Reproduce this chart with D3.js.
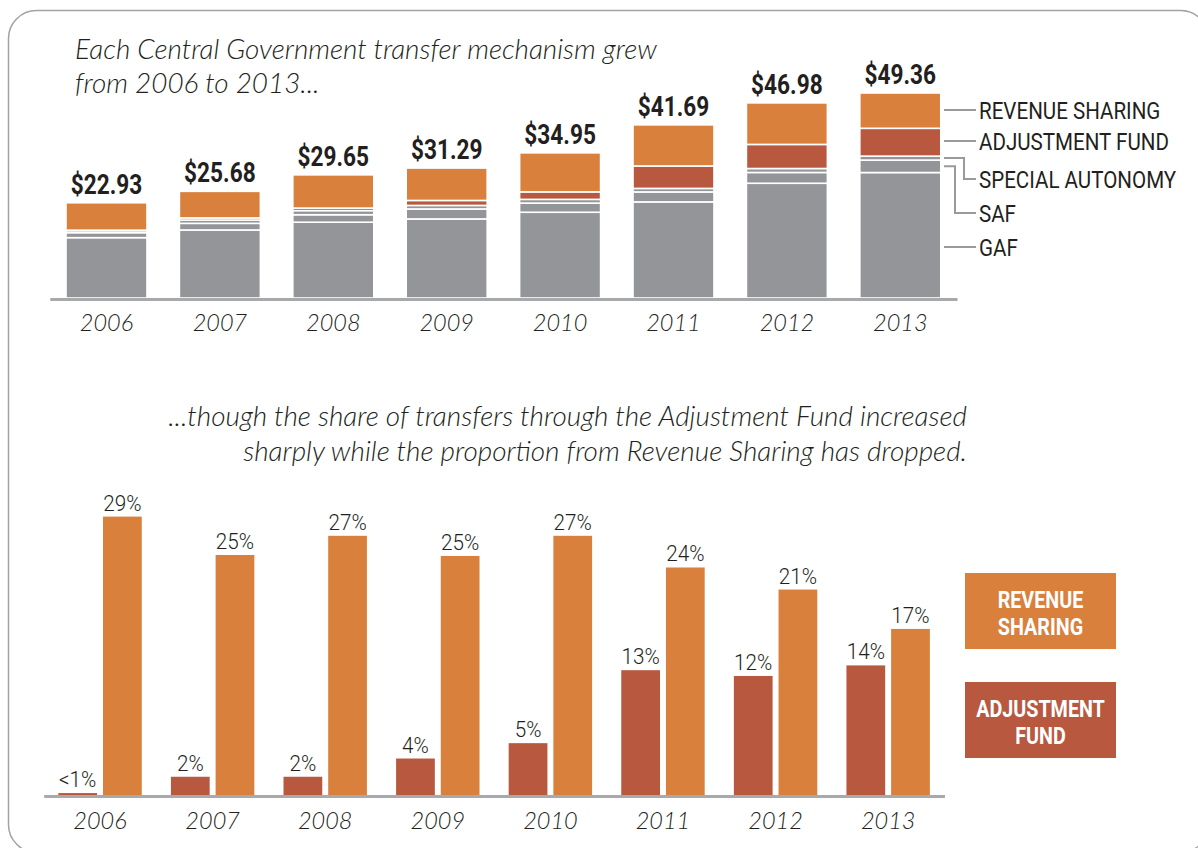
<!DOCTYPE html>
<html><head><meta charset="utf-8">
<script src="https://cdn.jsdelivr.net/npm/d3@7"></script>
<style>
html,body{margin:0;padding:0;background:#fff;}
svg{display:block;}
.ital{font-family:Lato,"Open Sans",sans-serif;font-style:italic;font-weight:300;fill:#231f20;}
.cond{font-family:Roboto,"Liberation Sans Narrow","DejaVu Sans Condensed",sans-serif;fill:#231f20;}
</style></head>
<body>
<script>
// ---------- data ----------
const years = ["2006","2007","2008","2009","2010","2011","2012","2013"];
const totals = [22.93, 25.68, 29.65, 31.29, 34.95, 41.69, 46.98, 49.36];
const revenueSharing   = [6.6, 6.4, 8.0, 7.8, 9.4, 9.9, 10.0, 8.5];
const adjustmentFund   = [0.1, 0.5, 0.6, 1.2, 1.8, 5.4, 5.8, 6.7];
const specialAutonomy  = [0.5, 0.8, 1.0, 0.85, 0.9, 0.85, 0.95, 0.95];
const saf              = [1.2, 1.6, 1.8, 2.4, 2.2, 2.4, 2.6, 3.0];
const gaf              = [14.53, 16.38, 18.25, 19.04, 20.65, 23.14, 27.63, 30.21];
const seriesKeys   = ["GAF","SAF","SA","AF","RS"];
const legendLabels = ["REVENUE SHARING","ADJUSTMENT FUND","SPECIAL AUTONOMY","SAF","GAF"];

const rsShare  = [29.0, 25.0, 27.0, 24.9, 27.0, 23.7, 21.4, 17.3];
const afShare  = [0.2, 1.9, 1.9, 3.8, 5.4, 13.0, 12.4, 13.5];
const rsLabels = ["29%","25%","27%","25%","27%","24%","21%","17%"];
const afLabels = ["<1%","2%","2%","4%","5%","13%","12%","14%"];

const title1 = ["Each Central Government transfer mechanism grew","from 2006 to 2013..."];
const title2 = ["...though the share of transfers through the Adjustment Fund increased","sharply while the proportion from Revenue Sharing has dropped."];

// ---------- styles ----------
const C = {RS:"#d9803d", AF:"#b8583f", SA:"#939598", SAF:"#939598", GAF:"#939598"};
const axisGray = "#a7a9ac";

const W = 1198, H = 848;
const svg = d3.select("body").append("svg").attr("width",W).attr("height",H);

// frame
svg.append("rect").attr("x",8.5).attr("y",10.5).attr("width",1200).attr("height",842)
  .attr("rx",28).attr("fill","none").attr("stroke","#a3a3a3").attr("stroke-width",1.5);

// condensed text: horizontal scale via transform (no narrow font cut installed)
function condText(parent, data, opt){
  return parent.selectAll(null).data(data).join("text").attr("class","cond")
    .attr("transform",(d,i)=>`translate(${opt.x(d,i)},${opt.y(d,i)}) scale(${opt.k},1)`)
    .attr("text-anchor",opt.anchor||"start")
    .style("font-size",opt.size+"px").style("font-weight",opt.weight||400)
    .style("fill",opt.fill||"#231f20").text(opt.text||(d=>d));
}
function fontFit(sel, w){
  let fs = 23;
  sel.each(function(){ const l=this.getComputedTextLength(); const cur=parseFloat(d3.select(this).style("font-size")); if(l>0) fs = cur*w/l; });
  return fs;
}

// ---------- top chart ----------
const rows = years.map((y,i)=>({year:y, GAF:gaf[i], SAF:saf[i], SA:specialAutonomy[i], AF:adjustmentFund[i], RS:revenueSharing[i], total:totals[i]}));
const x1 = d3.scaleBand().domain(years).range([49.8,957]).paddingInner(0.286).paddingOuter(0.143);
const y1 = d3.scaleLinear().domain([0,50]).range([298,90.35]);
const stack = d3.stack().keys(seriesKeys)(rows);

const g1 = svg.append("g");
g1.selectAll("g.s").data(stack).join("g").attr("fill",d=>C[d.key])
  .selectAll("rect").data(d=>d).join("rect")
  .attr("x",d=>x1(d.data.year)).attr("width",x1.bandwidth())
  .attr("y",d=>y1(d[1])).attr("height",d=>y1(d[0])-y1(d[1]))
  .attr("stroke","#fff").attr("stroke-width",1.6);

const ax1 = g1.append("g").attr("transform","translate(0,299)").call(d3.axisBottom(x1).tickSize(0).tickPadding(0));
ax1.select(".domain").attr("stroke",axisGray).attr("stroke-width",3);
ax1.selectAll(".tick text").attr("class","ital").attr("dy",null).attr("y",32).style("font-size","23.5px").attr("fill","#231f20");

// totals
condText(g1, rows, {x:d=>x1(d.year)+x1.bandwidth()/2, y:d=>y1(d.total)-9, k:0.84, anchor:"middle",
  size:27, weight:700, text:d=>d3.format("$.2f")(d.total)});

// legend with leader lines
const last = stack.map(s=>s[s.length-1]);
const mid = k => { const s = last[seriesKeys.indexOf(k)]; return y1((s[0]+s[1])/2); };
const legY = [110,141,179,213,247];
const legKeys = ["RS","AF","SA","SAF","GAF"];
const elbowX = {SA:964, SAF:955};
const lg = svg.append("g");
legKeys.forEach((k,i)=>{
  const y0 = k==="GAF" ? legY[i] : mid(k);
  const pts = elbowX[k] ? [[944,y0],[elbowX[k],y0],[elbowX[k],legY[i]],[976,legY[i]]] : [[944,legY[i]],[976,legY[i]]];
  lg.append("path").attr("d",d3.line()(pts)).attr("fill","none").attr("stroke","#9a9a9a").attr("stroke-width",2);
});
condText(lg, legendLabels, {x:()=>979, y:(d,i)=>legY[i]+8.5, k:0.875, size:23.5});

// titles
const t1 = svg.append("g").selectAll("text").data(title1).join("text").attr("class","ital")
  .attr("x",75).attr("y",(d,i)=>59+i*34).style("font-size","23px").text(d=>d);
const fs1 = fontFit(t1.filter((d,i)=>i===0),582);
t1.style("font-size",fs1+"px");

const t2 = svg.append("g").selectAll("text").data(title2).join("text").attr("class","ital")
  .attr("x",967).attr("y",(d,i)=>426+i*35).attr("text-anchor","end").style("font-size","23px").text(d=>d);
const fs2 = fontFit(t2.filter((d,i)=>i===0),799);
t2.style("font-size",fs2+"px");

// ---------- bottom chart ----------
const x2 = d3.scaleBand().domain(years).range([43.7,944.5]).paddingInner(0.259).paddingOuter(0.13);
const xin = d3.scaleBand().domain(["AF","RS"]).range([0,x2.bandwidth()]).paddingInner(0.133).paddingOuter(0);
const y2 = d3.scaleLinear().domain([0,30]).range([795,507]);
const rows2 = years.map((y,i)=>({year:y, vals:[{k:"AF",v:afShare[i],l:afLabels[i]},{k:"RS",v:rsShare[i],l:rsLabels[i]}]}));
const g2 = svg.append("g");
const grp = g2.selectAll("g.grp").data(rows2).join("g").attr("transform",d=>`translate(${x2(d.year)},0)`);
grp.selectAll("rect").data(d=>d.vals).join("rect")
  .attr("x",d=>xin(d.k)).attr("width",xin.bandwidth())
  .attr("y",d=>y2(d.v)).attr("height",d=>y2(0)-y2(d.v)).attr("fill",d=>C[d.k]);
grp.each(function(r){
  condText(d3.select(this), r.vals, {x:d=>xin(d.k)+xin.bandwidth()/2, y:d=>y2(d.v)-6, k:0.92, anchor:"middle", size:22.5, weight:300, text:d=>d.l});
});
const ax2 = g2.append("g").attr("transform","translate(0,796)").call(d3.axisBottom(x2).tickSize(0).tickPadding(0));
ax2.select(".domain").attr("stroke",axisGray).attr("stroke-width",3);
ax2.selectAll(".tick text").attr("class","ital").attr("dy",null).attr("y",33).style("font-size","23.5px").attr("fill","#231f20");

// bottom legend boxes
const boxes = [{k:"RS",y:573,lines:["REVENUE","SHARING"]},{k:"AF",y:682,lines:["ADJUSTMENT","FUND"]}];
const bl = svg.append("g");
boxes.forEach(b=>{
  bl.append("rect").attr("x",965).attr("y",b.y).attr("width",151).attr("height",76).attr("fill",C[b.k]);
  condText(bl, b.lines, {x:()=>1040.5, y:(d,i)=>b.y+35+i*27, k:0.84, anchor:"middle", size:23.5, weight:700, fill:"#fff"});
});
</script>
</body></html>
